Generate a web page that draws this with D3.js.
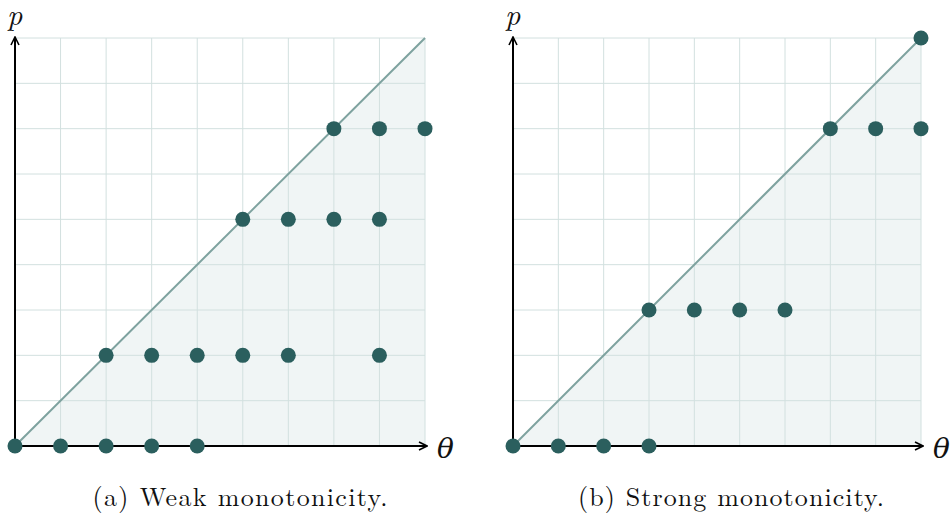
<!DOCTYPE html>
<html>
<head>
<meta charset="utf-8">
<script src="https://cdn.jsdelivr.net/npm/d3@7"></script>
<style>
  body { margin: 0; background: #fff; }
  svg text { font-family: "Latin Modern Roman", "DejaVu Serif", "Liberation Serif", serif; fill: #111; }
</style>
</head>
<body>
<svg id="chart" width="951" height="525"></svg>
<script>
// grid goes 0..9 on both axes
const gridTicks = [0, 1, 2, 3, 4, 5, 6, 7, 8, 9]

// (a) weak monotonicity: [theta, p]
const weakPoints = [
    [0, 0], [1, 0], [2, 0], [3, 0], [4, 0],
    [2, 2], [3, 2], [4, 2], [5, 2], [6, 2], [8, 2],
    [5, 5], [6, 5], [7, 5], [8, 5],
    [7, 7], [8, 7], [9, 7]
]

// (b) strong monotonicity
const strongPoints = [
    [0, 0], [1, 0], [2, 0], [3, 0],
    [3, 3], [4, 3], [5, 3], [6, 3],
    [7, 7], [8, 7], [9, 7],
    [9, 9]
]

const captions = ["(a) Weak monotonicity.", "(b) Strong monotonicity."]

const svg = d3.select("#chart")

const defs = svg.append("defs")
defs.append("marker")
    .attr("id", "arrow")
    .attr("viewBox", "0 0 10 10")
    .attr("refX", 9)
    .attr("refY", 5)
    .attr("markerWidth", 10)
    .attr("markerHeight", 10)
    .attr("markerUnits", "userSpaceOnUse")
    .attr("orient", "auto")
    .append("path")
    .attr("d", "M1,1 L9,5 L1,9")
    .attr("fill", "none")
    .attr("stroke", "#000")
    .attr("stroke-width", 1.6)

// caption box: centre and width
const panels = [
    { left: 15, right: 425, points: weakPoints, caption: captions[0], capX: 240, capW: 295 },
    { left: 513, right: 921, points: strongPoints, caption: captions[1], capX: 731, capW: 306 }
]

const plotTop = 38
const plotBottom = 446

panels.forEach(function (panel) {
    const x = d3.scaleLinear().domain([0, 9]).range([panel.left, panel.right])
    const y = d3.scaleLinear().domain([0, 9]).range([plotBottom, plotTop])
    const g = svg.append("g")

    // shaded triangle under the diagonal
    g.append("path")
        .attr("d", d3.line()([[x(0), y(0)], [x(9), y(9)], [x(9), y(0)]]) + "Z")
        .attr("fill", "#f0f5f5")

    // grid
    g.selectAll(".vgrid")
        .data(gridTicks)
        .enter()
        .append("line")
        .attr("x1", d => x(d)).attr("x2", d => x(d))
        .attr("y1", y(0)).attr("y2", y(9))
        .attr("stroke", "#d2e0df")
        .attr("stroke-width", 1)
    g.selectAll(".hgrid")
        .data(gridTicks)
        .enter()
        .append("line")
        .attr("x1", x(0)).attr("x2", x(9))
        .attr("y1", d => y(d)).attr("y2", d => y(d))
        .attr("stroke", "#d2e0df")
        .attr("stroke-width", 1)

    // diagonal
    g.append("line")
        .attr("x1", x(0)).attr("y1", y(0))
        .attr("x2", x(9)).attr("y2", y(9))
        .attr("stroke", "#7ea29f")
        .attr("stroke-width", 2)

    // axes
    g.append("line")
        .attr("x1", x(0)).attr("y1", y(0))
        .attr("x2", x(9) + 2).attr("y2", y(0))
        .attr("stroke", "#000")
        .attr("stroke-width", 2)
        .attr("marker-end", "url(#arrow)")
    g.append("line")
        .attr("x1", x(0)).attr("y1", y(0))
        .attr("x2", x(0)).attr("y2", y(9) - 1)
        .attr("stroke", "#000")
        .attr("stroke-width", 2)
        .attr("marker-end", "url(#arrow)")

    g.append("text")
        .attr("x", x(9) + 12)
        .attr("y", y(0) + 12)
        .attr("font-size", 28)
        .attr("font-style", "italic")
        .text("θ")
    g.append("text")
        .attr("x", x(0) - 8)
        .attr("y", 25)
        .attr("font-size", 30)
        .attr("font-style", "italic")
        .text("p")

    // points
    g.selectAll("circle")
        .data(panel.points)
        .enter()
        .append("circle")
        .attr("cx", d => x(d[0]))
        .attr("cy", d => y(d[1]))
        .attr("r", 7.5)
        .attr("fill", "#2b5f5e")

    g.append("text")
        .attr("x", panel.capX - panel.capW / 2)
        .attr("y", 506)
        .attr("font-size", 26)
        .attr("textLength", panel.capW)
        .attr("lengthAdjust", "spacing")
        .text(panel.caption)
})
</script>
</body>
</html>
